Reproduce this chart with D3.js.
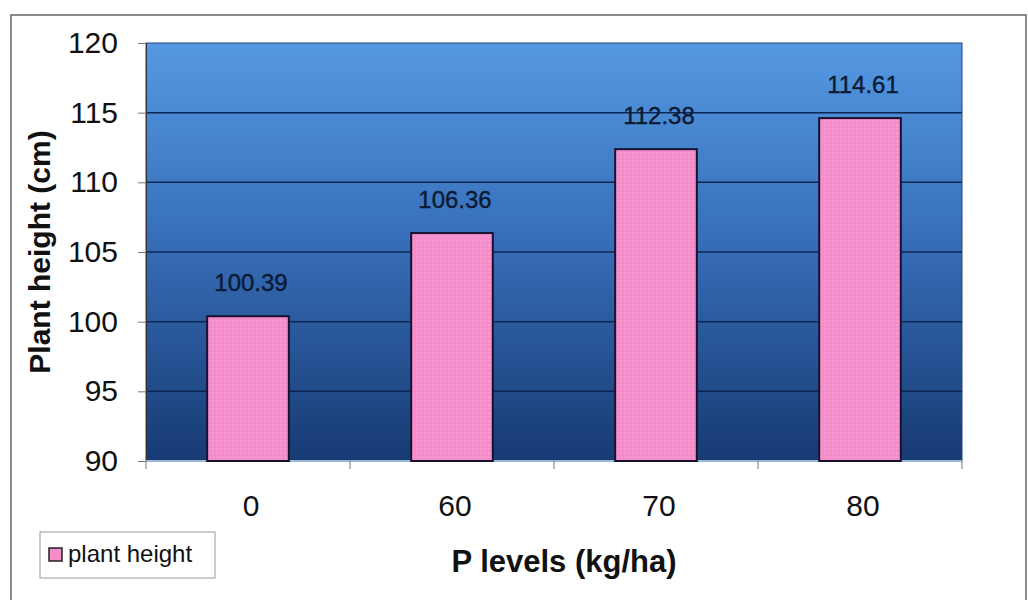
<!DOCTYPE html>
<html>
<head>
<meta charset="utf-8">
<script src="https://cdn.jsdelivr.net/npm/d3@7"></script>
<style>
  body { margin:0; background:#fff; }
  svg { display:block; }
</style>
</head>
<body>
<script>
//// datos ////
var categorias = ["0", "60", "70", "80"];
var alturas = [100.39, 106.36, 112.38, 114.61];
var yTicks = [90, 95, 100, 105, 110, 115, 120];
var serieNombre = "plant height";

var width = 1028;
var height = 606;
var margen = {left:146, right:66, top:43, bottom:145};

var svg = d3.select("body").append("svg")
  .attr("width", width)
  .attr("height", height)
  .attr("font-family", "'Liberation Sans', Arial, sans-serif");

var defs = svg.append("defs");

//// degrade del fondo (celeste arriba, azul oscuro abajo) ////
var grad = defs.append("linearGradient")
  .attr("id", "fondo")
  .attr("x1", 0).attr("y1", 0).attr("x2", 0).attr("y2", 1);
grad.append("stop").attr("offset", "0%").attr("stop-color", "#5599e2");
grad.append("stop").attr("offset", "45%").attr("stop-color", "#3870bb");
grad.append("stop").attr("offset", "100%").attr("stop-color", "#173a73");

//// textura punteada de las barras ////
var pat = defs.append("pattern")
  .attr("id", "puntos")
  .attr("width", 4).attr("height", 4)
  .attr("patternUnits", "userSpaceOnUse");
pat.append("rect").attr("width", 4).attr("height", 4).attr("fill", "#f58dca");
pat.append("circle").attr("cx", 1).attr("cy", 1).attr("r", 0.7).attr("fill", "#fbb6dc");

//// marco exterior ////
svg.append("path")
  .attr("d", "M11,600V15H1026V600")
  .attr("fill", "none")
  .attr("stroke", "#666")
  .attr("stroke-width", 1.5);

var x = d3.scaleBand()
  .domain(categorias)
  .range([margen.left, width - margen.right])
  .paddingInner(0.6)
  .paddingOuter(0.3);

var xSep = d3.scaleLinear()
  .domain([0, categorias.length])
  .range([margen.left, width - margen.right]);

var y = d3.scaleLinear()
  .domain([90, 120])
  .range([height - margen.bottom, margen.top]);

//// area del grafico ////
svg.append("rect")
  .attr("x", margen.left)
  .attr("y", margen.top)
  .attr("width", width - margen.left - margen.right)
  .attr("height", height - margen.top - margen.bottom)
  .attr("fill", "url(#fondo)")
  .attr("stroke", "#27457a")
  .attr("stroke-width", 1);

//// grilla ////
svg.append("g")
  .selectAll("line")
  .data(yTicks.slice(1, -1))
  .join("line")
  .attr("x1", margen.left)
  .attr("x2", width - margen.right)
  .attr("y1", d => y(d))
  .attr("y2", d => y(d))
  .attr("stroke", "#0e2654")
  .attr("stroke-width", 1.5);

//// eje y ////
var ejeY = svg.append("g")
  .attr("transform", `translate(${margen.left},0)`)
  .call(d3.axisLeft(y).tickValues(yTicks).tickSize(8).tickPadding(20));
ejeY.select(".domain").attr("stroke", "#333");
ejeY.selectAll(".tick line").attr("stroke", "#777");
ejeY.selectAll("text")
  .attr("font-size", 30)
  .attr("fill", "#111");

//// eje x (separadores entre categorias) ////
var ejeX = svg.append("g");
ejeX.append("line")
  .attr("x1", margen.left).attr("x2", width - margen.right)
  .attr("y1", y(90)).attr("y2", y(90))
  .attr("stroke", "#9bb7d6").attr("stroke-width", 2);
ejeX.selectAll(".sep")
  .data(d3.range(categorias.length + 1))
  .join("line")
  .attr("class", "sep")
  .attr("x1", d => xSep(d)).attr("x2", d => xSep(d))
  .attr("y1", y(90)).attr("y2", y(90) + 8)
  .attr("stroke", "#777");
ejeX.selectAll("text")
  .data(categorias)
  .join("text")
  .attr("x", d => x(d) + x.bandwidth() / 2 + 3)
  .attr("y", y(90) + 55)
  .attr("text-anchor", "middle")
  .attr("font-size", 30)
  .attr("fill", "#111")
  .text(d => d);

//// barras ////
svg.append("g")
  .selectAll("rect")
  .data(alturas)
  .join("rect")
  .attr("x", (d, i) => x(categorias[i]))
  .attr("y", d => y(d))
  .attr("width", x.bandwidth())
  .attr("height", d => y(90) - y(d))
  .attr("fill", "url(#puntos)")
  .attr("stroke", "#1a1030")
  .attr("stroke-width", 2);

//// etiquetas de valor ////
svg.append("g")
  .selectAll("text")
  .data(alturas)
  .join("text")
  .attr("x", (d, i) => x(categorias[i]) + x.bandwidth() / 2 + 3)
  .attr("y", d => y(d) - 25)
  .attr("text-anchor", "middle")
  .attr("font-size", 24)
  .attr("fill", "#0b1a33")
  .attr("stroke", "#0b1a33")
  .attr("stroke-width", 0.4)
  .text(d => d.toFixed(2));

//// titulos ////
svg.append("text")
  .attr("transform", `translate(50,${(margen.top + height - margen.bottom) / 2}) rotate(-90)`)
  .attr("text-anchor", "middle")
  .attr("font-size", 30)
  .attr("font-weight", "bold")
  .attr("fill", "#111")
  .text("Plant height (cm)");

svg.append("text")
  .attr("x", 564)
  .attr("y", 572)
  .attr("text-anchor", "middle")
  .attr("font-size", 31)
  .attr("font-weight", "bold")
  .attr("fill", "#111")
  .text("P levels (kg/ha)");

//// leyenda ////
var ley = svg.append("g").attr("transform", "translate(40,532)");
ley.append("rect")
  .attr("width", 175).attr("height", 46)
  .attr("fill", "#fff")
  .attr("stroke", "#999");
ley.append("rect")
  .attr("x", 9).attr("y", 16)
  .attr("width", 13).attr("height", 13)
  .attr("fill", "#f58dca")
  .attr("stroke", "#222")
  .attr("stroke-width", 1.5);
ley.append("text")
  .attr("x", 28).attr("y", 30)
  .attr("font-size", 24)
  .attr("fill", "#111")
  .text(serieNombre);
</script>
</body>
</html>
